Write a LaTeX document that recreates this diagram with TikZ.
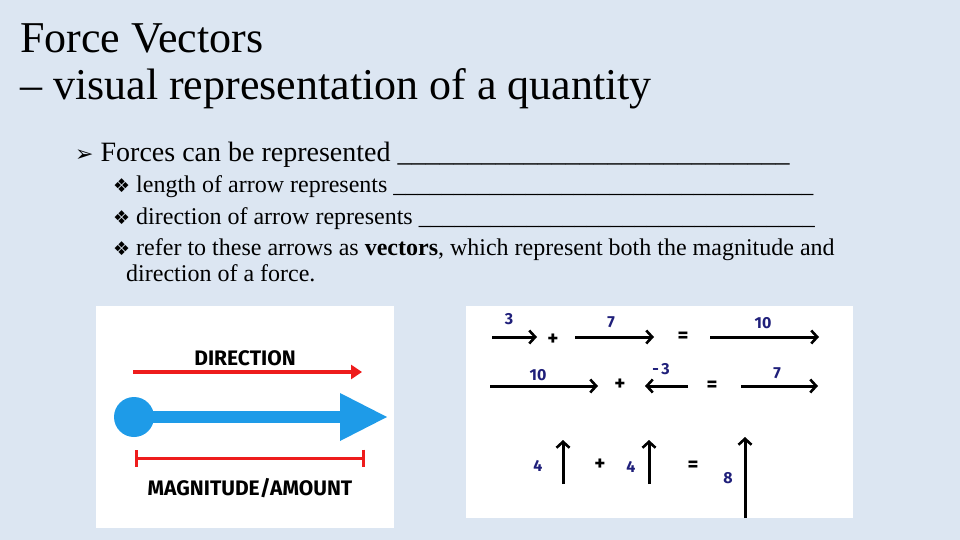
\documentclass[tikz,border=0pt]{standalone}
\usepackage{fontspec}
\setmainfont{Liberation Serif}
\newfontfamily\dejavu{DejaVu Sans}
\newfontfamily\lbl{Fira Sans}
\definecolor{bg}{HTML}{DCE6F2}
\definecolor{navy}{HTML}{1F1F7A}
\definecolor{bblue}{HTML}{1E9BE8}
\definecolor{rred}{HTML}{EE1C1C}
\usetikzlibrary{arrows.meta}
\begin{document}
\begin{tikzpicture}[x=1pt,y=-1pt,
  txt/.style={anchor=base west,inner sep=0pt},
  num/.style={font=\lbl\bfseries\fontsize{16}{16}\selectfont,text=navy,inner sep=0pt},
  op/.style={font=\lbl\bfseries\fontsize{21}{21}\selectfont,inner sep=0pt},
  varrow/.style={line width=3pt,-{Straight Barb[length=6pt,width=13pt,line width=2.6pt]}},
  captext/.style={font=\lbl\bfseries\fontsize{21}{21}\selectfont,inner sep=0pt}]
\fill[bg] (0,0) rectangle (960,540);
\useasboundingbox (0,0) rectangle (960,540);
\node[txt,font=\fontsize{44}{44}\selectfont] (t1) at (20,53) {Force Vectors};
\node[txt,font=\fontsize{44}{44}\selectfont] (t2) at (20,100) {\textendash{} visual representation of a quantity};
\node[txt,font=\fontsize{28}{28}\selectfont] (b1) at (75,162) {{\dejavu\fontsize{22}{22}\selectfont ➢} Forces can be represented \_\_\_\_\_\_\_\_\_\_\_\_\_\_\_\_\_\_\_\_\_\_\_\_\_\_\_\_};
\node[txt,font=\fontsize{24}{24}\selectfont] (s1) at (113,193) {{\dejavu\fontsize{19}{19}\selectfont ❖} length of arrow represents \_\_\_\_\_\_\_\_\_\_\_\_\_\_\_\_\_\_\_\_\_\_\_\_\_\_\_\_\_\_\_\_\_\_\_};
\node[txt,font=\fontsize{24}{24}\selectfont] (s2) at (113,224) {{\dejavu\fontsize{19}{19}\selectfont ❖} direction of arrow represents \_\_\_\_\_\_\_\_\_\_\_\_\_\_\_\_\_\_\_\_\_\_\_\_\_\_\_\_\_\_\_\_\_};
\node[txt,font=\fontsize{24}{24}\selectfont] (s3) at (113,255) {{\dejavu\fontsize{19}{19}\selectfont ❖} refer to these arrows as \textbf{vectors}, which represent both the magnitude and};
\node[txt,font=\fontsize{24}{24}\selectfont] (s4) at (126,281) {direction of a force.};
% left picture
\fill[white] (96,306) rectangle (394,528);
\node[captext] (dir) at (245,358) {DIRECTION};
\coordinate (r1a) at (133,372); \coordinate (r1b) at (362,372);
\draw[rred,line width=3.5pt,-{Triangle[length=11pt,width=14pt]}] (r1a) -- (r1b);
\fill[bblue] (134,417) circle (20);
\fill[bblue] (134,411) rectangle (342,423);
\fill[bblue] (340,393) -- (387,417) -- (340,441) -- cycle;
\coordinate (m1) at (135,458); \coordinate (m2) at (365,458);
\draw[rred,line width=3pt,{Bar[width=17pt]}-{Bar[width=17pt]}] (m1) -- (m2);
\node[captext] (mag) at (250,488) {MAGNITUDE/AMOUNT};
% right picture
\fill[white] (466,306) rectangle (853,518);
\coordinate (a1) at (492,337); \coordinate (a1e) at (537,337);
\draw[varrow] (a1) -- (a1e);
\node[num] (n3) at (509,319) {3};
\node[op] (p1) at (553,340) {+};
\coordinate (a2) at (575,337); \coordinate (a2e) at (654,337);
\draw[varrow] (a2) -- (a2e);
\node[num] (n7) at (611,322) {7};
\node[op] (e1) at (683,337) {=};
\coordinate (a3) at (710,337); \coordinate (a3e) at (819,337);
\draw[varrow] (a3) -- (a3e);
\node[num] (n10) at (763,323) {10};
\coordinate (b1s) at (490,386); \coordinate (b1e) at (598,386);
\draw[varrow] (b1s) -- (b1e);
\node[num] (n10b) at (538,375) {10};
\node[op] (p2) at (620,385) {+};
\coordinate (b2s) at (688,386); \coordinate (b2e) at (645,386);
\draw[varrow] (b2s) -- (b2e);
\node[num] (nm3) at (661,369) {-\,3};
\node[op] (e2) at (712,386) {=};
\coordinate (b3s) at (741,386); \coordinate (b3e) at (818,386);
\draw[varrow] (b3s) -- (b3e);
\node[num] (n7b) at (777,373) {7};
\coordinate (c1s) at (563,484); \coordinate (c1e) at (563,440);
\draw[varrow] (c1s) -- (c1e);
\node[num] (n4a) at (538,466) {4};
\node[op] (p3) at (600,465) {+};
\coordinate (c2s) at (649,484); \coordinate (c2e) at (649,440);
\draw[varrow] (c2s) -- (c2e);
\node[num] (n4b) at (631,467) {4};
\node[op] (e3) at (693,466) {=};
\coordinate (c3s) at (745,518); \coordinate (c3e) at (745,437);
\draw[varrow] (c3s) -- (c3e);
\node[num] (n8) at (728,478) {8};
\end{tikzpicture}
\end{document}
